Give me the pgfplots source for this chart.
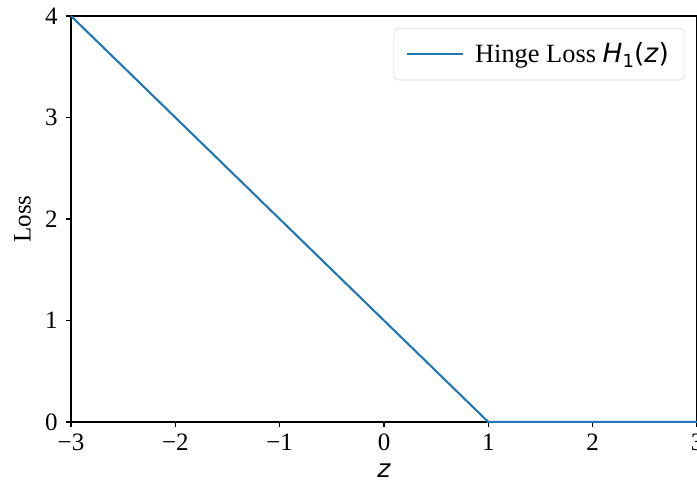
\documentclass[border=0pt]{standalone}
\usepackage{fontspec}
\setmainfont{Liberation Serif}
\newfontfamily\dejavu{DejaVu Sans}
\usepackage{pgfplots}
\pgfplotsset{compat=1.18}
\definecolor{mplblue}{HTML}{1F77B4}
\begin{document}
\fontsize{18pt}{21pt}\selectfont
\begin{tikzpicture}
\begin{axis}[
  scale only axis,
  width=450.72pt, height=292.32pt,
  xmin=-3, xmax=3, ymin=0, ymax=4,
  xtick={-3,-2,-1,0,1,2,3},
  xticklabels={−3,−2,−1,0,1,2,3},
  ytick={0,1,2,3,4},
  yticklabels={0,1,2,3,4},
  tick align=outside,
  tick style={black, line width=0.8pt},
  major tick length=3.5pt,
  xtick pos=bottom, ytick pos=left,
  axis line style={black, line width=0.8pt},
  xlabel={{\dejavu\itshape z}},
  ylabel={Loss},
  ticklabel style={font=\fontsize{18pt}{21pt}\selectfont},
  label style={font=\fontsize{18pt}{21pt}\selectfont},
  xticklabel style={yshift=1pt},
  xlabel style={yshift=3pt},
  ylabel style={yshift=-2pt},
  legend style={at={(0.98,0.97)}, anchor=north east, draw=black!15, rounded corners=3pt, font=\fontsize{19pt}{22pt}\selectfont, inner xsep=9pt, inner ysep=8pt, column sep=6pt},
  legend cell align=left,
  legend image code/.code={\draw[mplblue, line width=1.5pt] (0pt,0pt) -- (40pt,0pt);},
]
\addplot[mplblue, line width=1.5pt] coordinates {(-3,4) (1,0) (3,0)};
\addlegendentry{Hinge Loss {\dejavu\itshape H}{\dejavu\fontsize{13pt}{15pt}\selectfont\raisebox{-3.5pt}{1}}{\dejavu(\itshape z\/\upshape)}}
\end{axis}
\pgfresetboundingbox
\path[use as bounding box] ([shift={(-51.12pt,-46.08pt)}]current axis.south west) rectangle ([shift={(0pt,11.52pt)}]current axis.north east);
\end{tikzpicture}
\end{document}
